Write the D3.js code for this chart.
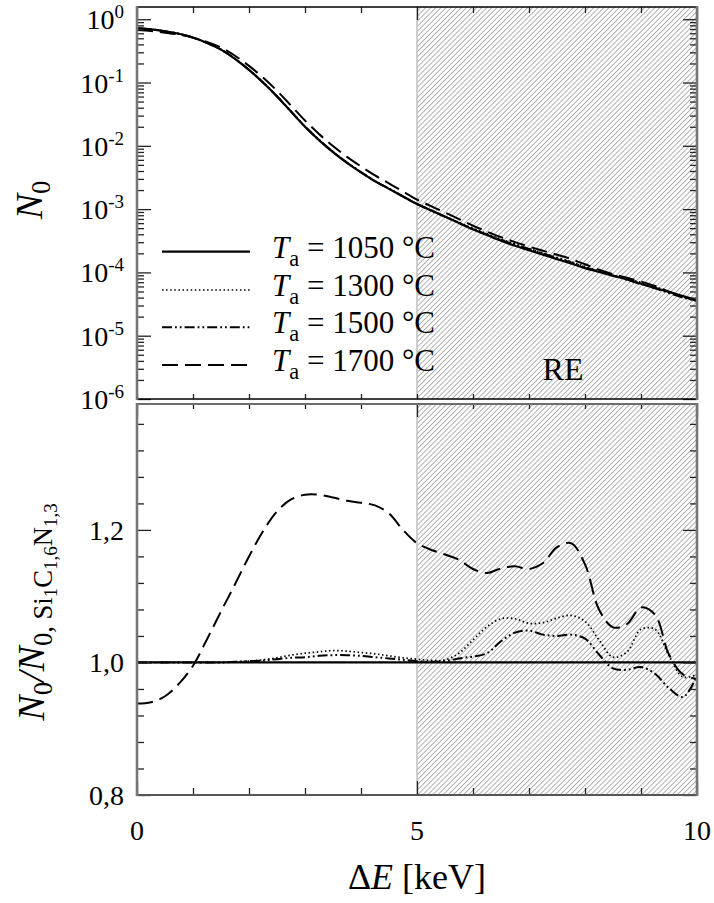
<!DOCTYPE html>
<html>
<head>
<meta charset="utf-8">
<script src="https://cdn.jsdelivr.net/npm/d3@7"></script>
<style>
  html, body { margin: 0; padding: 0; background: #fff; }
  svg text { font-family: "Liberation Serif", "Times New Roman", serif; fill: #000; }
</style>
</head>
<body>
<svg id="chart" width="714" height="903"></svg>
<script>
// Energy loss grid [keV]
const energy = [0, 0.25, 0.5, 0.75, 1, 1.25, 1.5, 1.75, 2, 2.25, 2.5, 2.75, 3, 3.25, 3.5, 3.75,
  4, 4.25, 4.5, 4.75, 5, 5.25, 5.5, 5.75, 6, 6.25, 6.5, 6.75, 7, 7.25, 7.5, 7.75,
  8, 8.25, 8.5, 8.75, 9, 9.25, 9.5, 9.75, 10];

// N0 of the reference layer Si1C1,6N1,3 (T_a = 1050 °C)
const n0Reference = [0.718, 0.692, 0.646, 0.589, 0.513, 0.422, 0.331, 0.237, 0.158, 0.100,
  0.0603, 0.0347, 0.0200, 0.0123, 0.00794, 0.00537, 0.00380, 0.00275, 0.00209, 0.00158,
  0.00120, 0.000955, 0.000759, 0.000603, 0.000479, 0.000389, 0.000316, 0.000263, 0.000224,
  0.000191, 0.000162, 0.000138, 0.000117, 0.000102, 0.0000891, 0.0000776, 0.0000661,
  0.0000569, 0.0000490, 0.0000422, 0.0000363];

// N0 / N0,ref for each annealing temperature
const ratio1050 = [1, 1, 1, 1, 1, 1, 1, 1, 1, 1, 1, 1, 1, 1, 1, 1, 1, 1, 1, 1, 1,
  1, 1, 1, 1, 1, 1, 1, 1, 1, 1, 1, 1, 1, 1, 1, 1, 1, 1, 1, 1];
const ratio1300 = [1.000, 1.000, 1.000, 1.000, 1.000, 1.000, 1.000, 1.001, 1.002, 1.004,
  1.007, 1.011, 1.014, 1.016, 1.018, 1.017, 1.015, 1.013, 1.010, 1.007, 1.005, 1.003,
  1.004, 1.014, 1.034, 1.054, 1.066, 1.066, 1.059, 1.060, 1.067, 1.071, 1.062, 1.034,
  1.008, 1.016, 1.050, 1.050, 1.010, 0.978, 0.982];
const ratio1500 = [1.000, 1.000, 1.000, 1.000, 1.000, 1.000, 1.000, 1.001, 1.002, 1.003,
  1.005, 1.007, 1.008, 1.010, 1.011, 1.011, 1.010, 1.008, 1.006, 1.004, 1.002, 1.001,
  1.002, 1.006, 1.009, 1.014, 1.032, 1.045, 1.048, 1.042, 1.040, 1.042, 1.036, 1.012,
  0.991, 0.989, 0.993, 0.983, 0.961, 0.948, 0.980];
const ratio1700 = [0.938, 0.940, 0.949, 0.968, 0.995, 1.035, 1.077, 1.118, 1.160, 1.198,
  1.228, 1.246, 1.253, 1.253, 1.249, 1.244, 1.241, 1.237, 1.225, 1.200, 1.180, 1.170,
  1.163, 1.155, 1.141, 1.135, 1.142, 1.145, 1.141, 1.150, 1.174, 1.180, 1.148, 1.080,
  1.053, 1.058, 1.083, 1.072, 1.012, 0.982, 0.975];

const temperatures = ["1050", "1300", "1500", "1700"];
const ratioSeries = [ratio1050, ratio1300, ratio1500, ratio1700];
const dashPatterns = [null, "1.5,2.6", "10,3,1.8,3,1.8,3", "16,7"];
const lineWidths = [2.2, 1.7, 2, 2];

const xTickLabels = ["0", "5", "10"];
const decadeExponents = ["0", "-1", "-2", "-3", "-4", "-5", "-6"];
const ratioTickLabels = ["0,8", "1,0", "1,2"];
const ratioTickValues = [0.8, 1.0, 1.2];

// ---- layout ----
const svg = d3.select("#chart");
const L = 137, R = 697;
const topPanel = { y0: 7, y1: 399 };
const botPanel = { y0: 404, y1: 795 };

const x = d3.scaleLinear().domain([0, 10]).range([L, R]);
const yTop = d3.scaleLog().domain([1e-6, 1.56]).range([topPanel.y1, topPanel.y0]);
const yBot = d3.scaleLinear().domain([0.8, 1.39]).range([botPanel.y1, botPanel.y0]);

// hatch pattern for the RE region
const defs = svg.append("defs");
const pat = defs.append("pattern").attr("id", "hatch")
  .attr("patternUnits", "userSpaceOnUse").attr("width", 3.6).attr("height", 3.6)
  .attr("patternTransform", "rotate(45)");
pat.append("rect").attr("width", 3.6).attr("height", 3.6).attr("fill", "#fff");
pat.append("line").attr("x1", 0.5).attr("y1", 0).attr("x2", 0.5).attr("y2", 3.6)
  .attr("stroke", "#9c9c9c").attr("stroke-width", 0.8);

[topPanel, botPanel].forEach((p, i) => {
  defs.append("clipPath").attr("id", "clip" + i)
    .append("rect").attr("x", L).attr("y", p.y0).attr("width", R - L).attr("height", p.y1 - p.y0);
  svg.append("rect").attr("x", x(5)).attr("y", p.y0)
    .attr("width", x(10) - x(5)).attr("height", p.y1 - p.y0)
    .attr("fill", "url(#hatch)");
  svg.append("line").attr("x1", x(5)).attr("x2", x(5)).attr("y1", p.y0).attr("y2", p.y1)
    .attr("stroke", "#c4c4c4").attr("stroke-width", 1.6);
});

// ---- curves ----
const topLine = d3.line()
  .x(d => x(d[0])).y(d => yTop(d[1]))
  .curve(d3.curveMonotoneX);
const botLine = d3.line()
  .x(d => x(d[0])).y(d => yBot(d[1]))
  .curve(d3.curveCatmullRom.alpha(0.5));

const gTop = svg.append("g").attr("clip-path", "url(#clip0)");
const gBot = svg.append("g").attr("clip-path", "url(#clip1)");

ratioSeries.forEach((ratio, s) => {
  const n0 = energy.map((e, i) => [e, n0Reference[i] * ratio[i]]);
  const rel = energy.map((e, i) => [e, ratio[i]]);
  [[gTop, topLine, n0], [gBot, botLine, rel]].forEach(([g, gen, pts]) => {
    const path = g.append("path").datum(pts).attr("d", gen)
      .attr("fill", "none").attr("stroke", "#000")
      .attr("stroke-width", lineWidths[s]).attr("stroke-linecap", "butt");
    if (dashPatterns[s]) path.attr("stroke-dasharray", dashPatterns[s]);
  });
});

// ---- frames and ticks ----
function frameLine(x1, y1, x2, y2, color, w) {
  svg.append("line").attr("x1", x1).attr("y1", y1).attr("x2", x2).attr("y2", y2)
    .attr("stroke", color).attr("stroke-width", w);
}
function ticks(axis, transform) {
  const g = svg.append("g").attr("transform", transform).call(axis);
  g.select(".domain").remove();
  g.selectAll(".tick line").attr("stroke", "#222").attr("stroke-width", 1.3);
  g.selectAll(".tick text").remove();
}

const minorX = [1, 2, 3, 4, 6, 7, 8, 9];
const majorX = [0, 5, 10];

// top panel
ticks(d3.axisTop(x).tickValues(minorX).tickSize(-6).tickSizeOuter(0), `translate(0,${topPanel.y0})`);
ticks(d3.axisTop(x).tickValues(majorX).tickSize(-13).tickSizeOuter(0), `translate(0,${topPanel.y0})`);
ticks(d3.axisBottom(x).tickValues(minorX).tickSize(-5).tickSizeOuter(0), `translate(0,${topPanel.y1})`);
ticks(d3.axisBottom(x).tickValues(majorX).tickSize(-5).tickSizeOuter(0), `translate(0,${topPanel.y1})`);

const decadeValues = decadeExponents.map(e => Math.pow(10, +e));
const logMinor = yTop.ticks().filter(v => !decadeValues.some(d => Math.abs(v / d - 1) < 1e-6));
ticks(d3.axisLeft(yTop).tickValues(logMinor).tickSize(-7).tickSizeOuter(0), `translate(${L},0)`);
ticks(d3.axisLeft(yTop).tickValues(decadeValues).tickSize(-14).tickSizeOuter(0), `translate(${L},0)`);
ticks(d3.axisRight(yTop).tickValues(logMinor).tickSize(-7).tickSizeOuter(0), `translate(${R},0)`);
ticks(d3.axisRight(yTop).tickValues(decadeValues).tickSize(-14).tickSizeOuter(0), `translate(${R},0)`);

// bottom panel
ticks(d3.axisTop(x).tickValues(minorX).tickSize(-5).tickSizeOuter(0), `translate(0,${botPanel.y0})`);
ticks(d3.axisTop(x).tickValues(majorX).tickSize(-13).tickSizeOuter(0), `translate(0,${botPanel.y0})`);
ticks(d3.axisBottom(x).tickValues(minorX).tickSize(-7).tickSizeOuter(0), `translate(0,${botPanel.y1})`);
ticks(d3.axisBottom(x).tickValues(majorX).tickSize(-14).tickSizeOuter(0), `translate(0,${botPanel.y1})`);

const ratioMinor = d3.range(0.84, 1.385, 0.04).filter(v => !ratioTickValues.some(t => Math.abs(t - v) < 1e-6));
ticks(d3.axisLeft(yBot).tickValues(ratioMinor).tickSize(-7).tickSizeOuter(0), `translate(${L},0)`);
ticks(d3.axisLeft(yBot).tickValues(ratioTickValues).tickSize(-14).tickSizeOuter(0), `translate(${L},0)`);
ticks(d3.axisRight(yBot).tickValues(ratioMinor).tickSize(-7).tickSizeOuter(0), `translate(${R},0)`);
ticks(d3.axisRight(yBot).tickValues(ratioTickValues).tickSize(-14).tickSizeOuter(0), `translate(${R},0)`);

// frame lines
frameLine(L, topPanel.y0, R, topPanel.y0, "#000", 1.6);
frameLine(L, topPanel.y1, R, topPanel.y1, "#000", 1.4);
frameLine(L, botPanel.y0, R, botPanel.y0, "#6e6e6e", 2);
frameLine(L, botPanel.y1, R, botPanel.y1, "#555", 2);
[topPanel, botPanel].forEach(p => {
  frameLine(L, p.y0 - 1, L, p.y1 + 1, "#777", 2.6);
  frameLine(R, p.y0 - 1, R, p.y1 + 1, "#777", 2.6);
});

// ---- tick labels ----
decadeExponents.forEach(e => {
  const t = svg.append("text").attr("x", 124).attr("y", yTop(Math.pow(10, +e)) + 10)
    .attr("text-anchor", "end").attr("font-size", 28);
  t.append("tspan").text("10");
  t.append("tspan").attr("dy", -11).attr("font-size", 19).text(e);
});
ratioTickLabels.forEach((lab, i) => {
  svg.append("text").attr("x", 124).attr("y", yBot(ratioTickValues[i]) + 10)
    .attr("text-anchor", "end").attr("font-size", 28).text(lab);
});
xTickLabels.forEach(lab => {
  svg.append("text").attr("x", x(+lab)).attr("y", 840)
    .attr("text-anchor", "middle").attr("font-size", 28).text(lab);
});

// ---- axis titles ----
const xt = svg.append("text").attr("x", x(5)).attr("y", 889)
  .attr("text-anchor", "middle").attr("font-size", 36);
xt.append("tspan").text("\u0394");
xt.append("tspan").attr("font-style", "italic").text("E");
xt.append("tspan").text(" [keV]");

const yt = svg.append("text").attr("transform", "translate(42,200) rotate(-90)")
  .attr("text-anchor", "middle").attr("font-size", 38);
yt.append("tspan").attr("font-style", "italic").text("N");
yt.append("tspan").attr("font-size", "0.7em").attr("dy", 8).text("0");

const yb = svg.append("text").attr("transform", "translate(44,612) rotate(-90)")
  .attr("text-anchor", "middle").attr("font-size", 38);
yb.append("tspan").attr("font-style", "italic").text("N");
yb.append("tspan").attr("font-size", "0.7em").attr("dy", 8).text("0");
yb.append("tspan").attr("font-style", "italic").attr("dy", -8).text("/N");
yb.append("tspan").attr("font-size", "0.7em").attr("dy", 8).text("0, Si");
yb.append("tspan").attr("font-size", "0.5em").attr("dy", 5).text("1");
yb.append("tspan").attr("font-size", "0.7em").attr("dy", -5).text("C");
yb.append("tspan").attr("font-size", "0.5em").attr("dy", 5).text("1,6");
yb.append("tspan").attr("font-size", "0.7em").attr("dy", -5).text("N");
yb.append("tspan").attr("font-size", "0.5em").attr("dy", 5).text("1,3");

// ---- RE label ----
svg.append("text").attr("x", 563).attr("y", 380).attr("text-anchor", "middle")
  .attr("font-size", 32).text("RE");

// ---- legend ----
const legendY = [251.7, 290, 327.3, 365];
temperatures.forEach((t, s) => {
  const ly = legendY[s];
  const l = svg.append("line").attr("x1", 162).attr("x2", 250).attr("y1", ly).attr("y2", ly)
    .attr("stroke", "#000").attr("stroke-width", lineWidths[s]);
  if (dashPatterns[s]) l.attr("stroke-dasharray", dashPatterns[s]);
  const tx = svg.append("text").attr("x", 272).attr("y", ly + 6).attr("font-size", 31);
  tx.append("tspan").attr("font-style", "italic").text("T");
  tx.append("tspan").attr("font-size", "0.72em").attr("dy", 8).text("a");
  tx.append("tspan").attr("dy", -8).text(` = ${t} \u00B0C`);
});
</script>
</body>
</html>
